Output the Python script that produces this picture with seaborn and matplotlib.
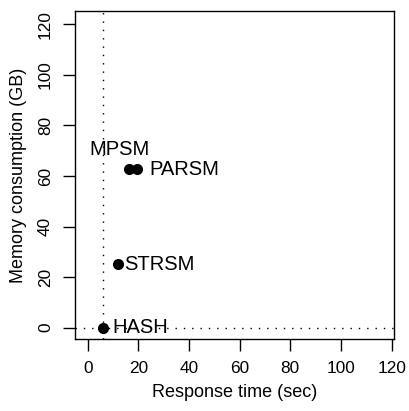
import matplotlib
matplotlib.use("Agg")
import matplotlib.pyplot as plt
import seaborn as sns
import pandas as pd

# Data
methods = ["HASH", "STRSM", "MPSM", "PARSM"]
response_time = [6.0, 12.0, 16.2, 19.5]
memory_gb = [0.0, 25.0, 62.6, 62.6]
x_ticks = [0, 20, 40, 60, 80, 100, 120]
y_ticks = [0, 20, 40, 60, 80, 100, 120]
ref_x = 6.0
ref_y = 0.0

df = pd.DataFrame({"method": methods, "time": response_time, "mem": memory_gb})

sns.set_style("ticks")
plt.rcParams["font.family"] = ["Liberation Sans", "DejaVu Sans"]
plt.rcParams["text.color"] = "black"
plt.rcParams["axes.labelcolor"] = "black"

fig = plt.figure(figsize=(4.09, 4.11), dpi=100)
ax = fig.add_axes([0.184, 0.175, 0.779, 0.798])

ax.axvline(ref_x, color="black", linestyle=(0, (1, 5)), linewidth=1.0, zorder=1)
ax.axhline(ref_y, color="black", linestyle=(0, (1, 5)), linewidth=1.0, zorder=1)

sns.scatterplot(data=df, x="time", y="mem", ax=ax, color="black", s=64,
                edgecolor="black", linewidth=0, zorder=3, legend=False)

offsets = {"HASH": (7.2, 0, "left"), "STRSM": (4.3, 0, "left"),
           "PARSM": (8.6, 0, "left"), "MPSM": (-6.9, 14.3, "center")}
for m, xv, yv in zip(methods, response_time, memory_gb):
    dx, dy, ha = offsets[m]
    ax.annotate(m, (xv, yv), xytext=(dx, dy), textcoords="offset points",
                ha=ha, va="center", fontsize=14.5, color="black", zorder=4)

ax.set_xlim(-4.9, 120.9)
ax.set_ylim(-4.5, 125.2)
ax.set_xticks(x_ticks)
ax.set_yticks(y_ticks)
ax.set_yticklabels([str(v) for v in y_ticks], rotation=90, va="center")
ax.tick_params(direction="out", length=8.6, width=1.0, pad=7.5, labelsize=12.4,
               colors="black")
for sp in ax.spines.values():
    sp.set_visible(True)
    sp.set_linewidth(1.0)
    sp.set_color("black")

ax.set_xlabel("Response time (sec)", fontsize=13, color="black")
ax.set_ylabel("Memory consumption (GB)", fontsize=13, color="black")
ax.xaxis.set_label_coords(0.5, -0.138)
ax.yaxis.set_label_coords(-0.152, 0.5)

fig.savefig("out.png", dpi=100)
